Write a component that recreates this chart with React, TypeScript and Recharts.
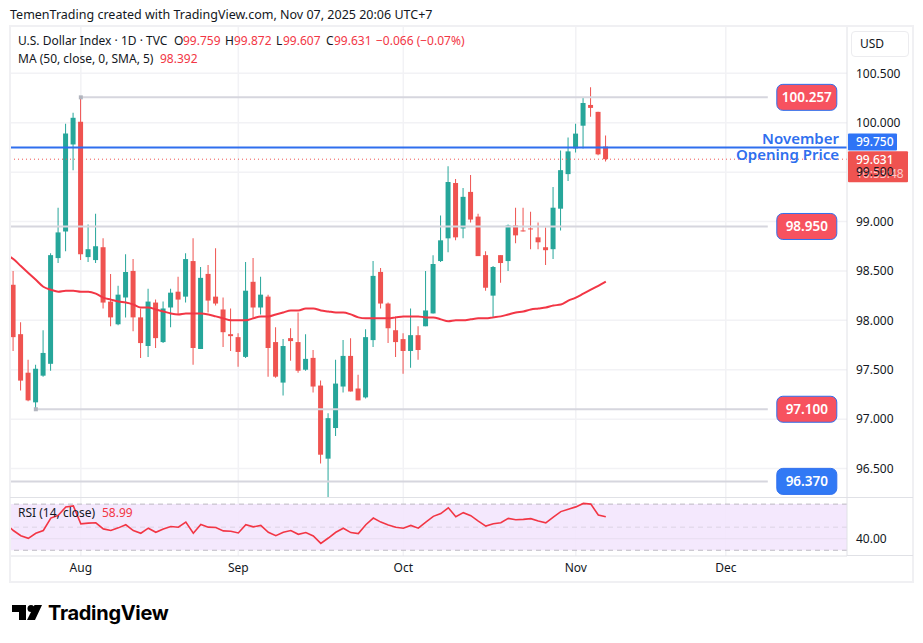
import React from "react";
import { ComposedChart, Bar, Line, XAxis, YAxis, CartesianGrid, ReferenceLine, ReferenceDot, ReferenceArea, Cell } from "recharts";

const opens = [98.36,97.86,97.47,97.17,97.44,97.56,98.63,98.90,99.78,100.01,98.64,98.61,98.74,98.19,97.96,98.23,98.50,98.03,97.74,98.18,97.78,98.13,98.29,98.24,98.60,97.71,98.47,98.24,98.11,97.86,97.83,97.63,98.39,98.13,98.24,97.78,97.37,97.82,97.78,97.50,97.62,97.34,96.60,96.91,97.33,97.64,97.31,97.22,97.80,98.49,98.17,97.90,97.81,97.69,97.85,97.94,98.07,98.60,98.83,99.39,98.93,99.30,99.05,98.66,98.25,98.66,98.60,98.96,98.91,98.93,98.84,98.74,98.72,99.13,99.48,99.74,99.97,100.18,100.11,99.759];
const closes = [97.83,97.39,97.19,97.51,97.67,98.66,98.89,99.89,100.05,98.67,98.72,98.75,98.18,98.03,98.26,98.49,98.03,97.77,98.19,97.82,98.12,98.28,98.21,98.62,97.72,98.43,98.20,98.17,97.88,97.84,97.68,98.30,98.13,98.26,97.72,97.43,97.74,97.79,97.49,97.61,97.33,96.64,97.01,97.36,97.64,97.28,97.19,97.83,98.45,98.17,97.92,97.78,97.69,97.85,97.70,98.10,98.57,98.81,99.40,98.84,99.25,99.02,98.65,98.33,98.54,98.58,98.96,98.86,98.90,98.92,98.79,98.71,99.14,99.52,99.71,99.89,100.20,100.15,99.68,99.631];
const highs = [98.50,97.98,97.60,97.55,97.90,98.68,99.14,99.99,100.10,100.257,98.97,99.08,98.83,98.47,98.35,98.67,98.62,98.12,98.32,98.21,98.19,98.32,98.44,98.68,98.83,98.54,98.56,98.73,98.23,98.12,97.87,98.59,98.63,98.44,98.26,97.93,97.81,97.92,98.08,97.86,97.70,97.39,97.06,97.60,97.80,97.82,97.45,97.91,98.60,98.53,98.18,98.04,97.87,98.12,97.94,98.50,98.66,99.06,99.56,99.43,99.34,99.47,99.08,98.70,98.55,98.66,98.97,99.14,99.14,99.10,98.99,98.94,99.35,99.72,99.85,99.99,100.26,100.36,100.11,99.872];
const lows = [97.69,97.29,97.18,97.09,97.43,97.49,98.58,98.70,99.52,98.61,98.59,98.58,98.12,97.94,97.95,98.03,97.89,97.62,97.63,97.72,97.77,97.93,98.06,98.18,97.55,97.71,98.08,98.15,97.73,97.69,97.53,97.62,98.02,98.06,97.43,97.42,97.24,97.59,97.47,97.49,97.27,96.55,96.21,96.83,97.27,97.28,97.19,97.21,97.73,98.12,97.77,97.63,97.46,97.52,97.60,97.94,98.07,98.59,98.69,98.81,98.83,98.99,98.65,98.30,98.02,98.38,98.50,98.78,98.90,98.72,98.72,98.56,98.62,98.91,99.41,99.70,99.74,100.06,99.67,99.607];
const maValues = [98.62,98.55,98.48,98.41,98.34,98.31,98.29,98.30,98.30,98.29,98.29,98.27,98.23,98.21,98.19,98.18,98.16,98.13,98.13,98.11,98.09,98.07,98.06,98.07,98.07,98.07,98.06,98.04,98.02,98.00,98.00,98.00,98.02,98.04,98.04,98.06,98.08,98.10,98.10,98.12,98.12,98.10,98.09,98.08,98.08,98.06,98.03,98.02,98.02,98.02,98.02,98.03,98.04,98.04,98.04,98.03,98.03,98.01,97.99,98.00,98.00,98.01,98.02,98.02,98.03,98.04,98.06,98.08,98.09,98.11,98.12,98.13,98.15,98.16,98.20,98.23,98.27,98.31,98.35,98.392];
const rsiValues = [47.1,42.6,40.3,44.7,47.1,57.9,60.3,67.6,68.5,52.9,53.5,53.8,48.5,47.1,49.4,52.1,47.1,44.7,49.1,45.6,48.5,50.6,50.0,54.4,44.7,52.4,50.0,49.7,46.8,46.5,45.0,52.1,50.3,51.5,45.6,42.6,45.6,47.1,43.8,45.3,42.4,35.9,40.6,45.6,49.1,45.3,44.4,52.1,57.9,54.4,51.8,50.0,49.1,51.5,49.1,54.4,59.4,61.8,66.8,59.1,62.6,60.0,55.3,50.9,52.9,53.8,57.6,56.5,56.8,57.4,55.3,53.8,58.8,63.5,65.6,67.6,70.6,70.0,60.6,58.99];
const leadMa = 98.67;
const leadRsi = 52.9;

const monthTicks = [9, 30, 52, 75, 95];
const monthLabels = ["Aug", "Sep", "Oct", "Nov", "Dec"];
const priceTicks = [100.5, 100, 99.5, 99, 98.5, 98, 97.5, 97, 96.5];
const rsiTicks = [40];

const xDomain: [number, number] = [-0.444, 111.16];
const priceDomain: [number, number] = [96.212, 100.969];
const rsiDomain: [number, number] = [25, 75.3];

const GREEN = "#26a69a";
const RED = "#ef5350";
const MA_RED = "#f23645";
const BLUE = "#2f6fee";
const LEVEL = "#d6d6de";
const GRID = "#f2f2f5";
const DIV = "#e0e1e6";
const FONT = "'Noto Sans', sans-serif";
const INK = "#131722";

const candleRows = opens.map((o, i) => ({
  idx: i,
  wick: [lows[i], highs[i]],
  body: [Math.min(o, closes[i]), Math.max(o, closes[i])],
  up: closes[i] >= o,
  ma: maValues[i],
}));
const priceRows = [{ idx: -1, ma: leadMa }, ...candleRows];
const rsiRows = [{ idx: -1, rsi: leadRsi }, ...rsiValues.map((r, i) => ({ idx: i, rsi: r }))];

const Pill = ({ cx, cy, text, fill }: any) => (
  <g>
    <rect x={cx - 30} y={cy - 13} width={60} height={26} rx={6} fill={fill} stroke="#2f6fee" strokeWidth={1} />
    <text x={cx} y={cy + 5} textAnchor="middle" fontFamily={FONT} fontSize={13.5} fontWeight={600} fill="#fff">{text}</text>
  </g>
);
const Handle = ({ cx, cy }: any) => <rect x={cx - 2} y={cy - 2} width={4} height={4} fill="#b2b5be" />;

const levels = [
  { value: 100.257, from: 9, text: "100.257", fill: "#f7525f" },
  { value: 98.95, from: xDomain[0], text: "98.950", fill: "#f7525f" },
  { value: 97.1, from: 3, text: "97.100", fill: "#f7525f" },
  { value: 96.37, from: xDomain[0], text: "96.370", fill: "#3179f5" },
];

export default function App() {
  const frameLine: React.CSSProperties = { position: "absolute", background: DIV };
  const txt = (x: number, y: number, s: string, color = INK, size = 12, extra: React.CSSProperties = {}) => (
    <div style={{ position: "absolute", left: x, top: y, fontFamily: FONT, fontSize: size, lineHeight: "16px", color, whiteSpace: "pre", ...extra }}>{s}</div>
  );
  const red = "#f23645";
  return (
    <div style={{ position: "absolute", left: 0, top: 0, width: 923, height: 643, background: "#fff", overflow: "hidden" }}>
      <div style={{ position: "absolute", left: 0, top: 0 }}>
        <ComposedChart width={923} height={498} data={priceRows} margin={{ top: 27, right: 10, bottom: 1, left: 10 }} barGap={0}>
          <XAxis xAxisId="w" dataKey="idx" type="number" domain={xDomain} allowDataOverflow hide />
          <XAxis xAxisId="b" dataKey="idx" type="number" domain={xDomain} allowDataOverflow hide />
          <YAxis orientation="right" width={66} domain={priceDomain} allowDataOverflow ticks={priceTicks} interval={0}
            tickFormatter={(v: number) => v.toFixed(3)} tickLine={false} tickSize={0} tickMargin={9}
            axisLine={{ stroke: DIV }} tick={{ fill: INK, fontFamily: FONT, fontSize: 12 }} />
          <CartesianGrid xAxisId="b" stroke={GRID} strokeWidth={1.5} horizontalValues={priceTicks} verticalValues={monthTicks} />
          {levels.map((l) => (
            <ReferenceLine key={l.text} xAxisId="b" stroke={LEVEL} strokeWidth={2} segment={[{ x: l.from, y: l.value }, { x: 100.6, y: l.value }]} />
          ))}
          <ReferenceLine xAxisId="b" y={closes[closes.length - 1]} stroke={RED} strokeWidth={1} strokeDasharray="1 3" />
          <ReferenceLine xAxisId="b" y={99.75} stroke={BLUE} strokeWidth={2} />
          <Line xAxisId="b" dataKey="ma" stroke={MA_RED} strokeWidth={2} dot={false} activeDot={false} isAnimationActive={false} type="monotone" />
          <Bar xAxisId="w" dataKey="wick" barSize={1} isAnimationActive={false}>
            {priceRows.map((r: any, i) => <Cell key={i} fill={r.up ? GREEN : RED} />)}
          </Bar>
          <Bar xAxisId="b" dataKey="body" barSize={5} minPointSize={1} isAnimationActive={false}>
            {priceRows.map((r: any, i) => <Cell key={i} fill={r.up ? GREEN : RED} />)}
          </Bar>
          <ReferenceDot xAxisId="b" x={9} y={100.257} ifOverflow="visible" shape={Handle} />
          <ReferenceDot xAxisId="b" x={3} y={97.1} ifOverflow="visible" shape={Handle} />
          {levels.map((l) => (
            <ReferenceDot key={"p" + l.text} xAxisId="b" x={105.8} y={l.value} ifOverflow="visible"
              shape={(p: any) => <Pill cx={p.cx} cy={p.cy} text={l.text} fill={l.fill} />} />
          ))}
          <ReferenceDot xAxisId="b" x={xDomain[1]} y={99.75} ifOverflow="visible" shape={(p: any) => (
            <g>
              <text x={p.cx - 8} y={p.cy - 3} textAnchor="end" fontFamily={FONT} fontSize={15} fontWeight={600} fill={BLUE}>November</text>
              <text x={p.cx - 8} y={p.cy + 13} textAnchor="end" fontFamily={FONT} fontSize={15} fontWeight={600} fill={BLUE}>Opening Price</text>
              <rect x={p.cx + 1} y={p.cy - 14} width={49} height={17} rx={1} fill="#2f74f6" />
              <text x={p.cx + 9} y={p.cy - 1} fontFamily={FONT} fontSize={12} fontWeight={500} fill="#fff">99.750</text>
            </g>
          )} />
          <ReferenceDot xAxisId="b" x={xDomain[1]} y={closes[closes.length - 1]} ifOverflow="visible" shape={(p: any) => (
            <g>
              <rect x={p.cx + 1} y={p.cy - 8} width={60} height={31} rx={1} fill={RED} />
              <text x={p.cx + 9} y={p.cy + 5} fontFamily={FONT} fontSize={12} fontWeight={500} fill="#fff">99.631</text>
              <text x={p.cx + 9} y={p.cy + 19} fontFamily={FONT} fontSize={12} fill="#fbc9c8">10:53:48</text>
            </g>
          )} />
        </ComposedChart>
      </div>
      <div style={{ position: "absolute", left: 0, top: 498 }}>
        <ComposedChart width={923} height={85} data={rsiRows} margin={{ top: 0, right: 10, bottom: 0, left: 10 }}>
          <XAxis dataKey="idx" type="number" domain={xDomain} allowDataOverflow ticks={monthTicks} interval={0} height={27}
            tickFormatter={(v: number) => monthLabels[monthTicks.indexOf(v)]} tickLine={false} tickSize={0} tickMargin={7}
            axisLine={{ stroke: DIV }} tick={{ fill: INK, fontFamily: FONT, fontSize: 12 }} />
          <YAxis orientation="right" width={66} domain={rsiDomain} allowDataOverflow ticks={rsiTicks} interval={0}
            tickFormatter={(v: number) => v.toFixed(2)} tickLine={false} tickSize={0} tickMargin={9}
            axisLine={{ stroke: DIV }} tick={{ fill: INK, fontFamily: FONT, fontSize: 12 }} />
          <CartesianGrid stroke={GRID} strokeWidth={1.5} horizontal={false} verticalValues={monthTicks} />
          <ReferenceArea y1={30} y2={70} fill="#f3e6fd" fillOpacity={0.9} stroke="none" />
          <ReferenceLine y={40} stroke="#e8def0" strokeWidth={1} />
          <ReferenceLine y={50} stroke="#dcd3e4" strokeWidth={1} strokeDasharray="5 4" />
          <ReferenceLine y={70} stroke="#bdb9c2" strokeWidth={1} strokeDasharray="5 4" />
          <ReferenceLine y={30} stroke="#bdb9c2" strokeWidth={1} strokeDasharray="5 4" />
          <Line dataKey="rsi" stroke={MA_RED} strokeWidth={1.6} dot={false} activeDot={false} isAnimationActive={false} />
        </ComposedChart>
      </div>

      <div style={{ position: "absolute", left: 9, top: 25, width: 905, height: 558, border: "2px solid #f0f0f3", boxSizing: "border-box", pointerEvents: "none" }} />
      <div style={{ ...frameLine, left: 10, top: 497, width: 903, height: 1 }} />
      <div style={{ ...frameLine, left: 847, top: 555, width: 66, height: 1 }} />
      <div style={{ position: "absolute", left: 851, top: 31, width: 58, height: 26, border: "1px solid #ececef", borderRadius: 4, boxSizing: "border-box", background: "#fff" }} />
      {txt(860, 36, "USD")}
      {txt(10, 7, "TemenTrading created with TradingView.com, Nov 07, 2025 20:06 UTC+7", INK, 12.5)}
      {txt(18, 33, "U.S. Dollar Index · 1D · TVC")}
      {txt(174, 33, "O")}{txt(183, 33, "99.759", red)}
      {txt(225, 33, "H")}{txt(234, 33, "99.872", red)}
      {txt(276, 33, "L")}{txt(283, 33, "99.607", red)}
      {txt(326, 33, "C")}{txt(334, 33, "99.631", red)}
      {txt(376, 33, "−0.066 (−0.07%)", red)}
      {txt(18, 51, "MA (50, close, 0, SMA, 5)")}{txt(160, 51, "98.392", red)}
      {txt(18, 505, "RSI (14, close)")}{txt(102, 505, "58.99", red)}
      <svg style={{ position: "absolute", left: 0, top: 595 }} width={60} height={36}>
        <path d="M12 10 H26 V25 H19 V17 H12 Z" fill="#000" />
        <circle cx={31} cy={13.5} r={3.5} fill="#000" />
        <path d="M34.5 10 H42 L35 25 H27 Z" fill="#000" />
      </svg>
      <div style={{ position: "absolute", left: 48, top: 599, fontFamily: "Inter, sans-serif", fontSize: 20, lineHeight: "28px", fontWeight: 700, color: "#000", letterSpacing: "-0.3px" }}>TradingView</div>
    </div>
  );
}
